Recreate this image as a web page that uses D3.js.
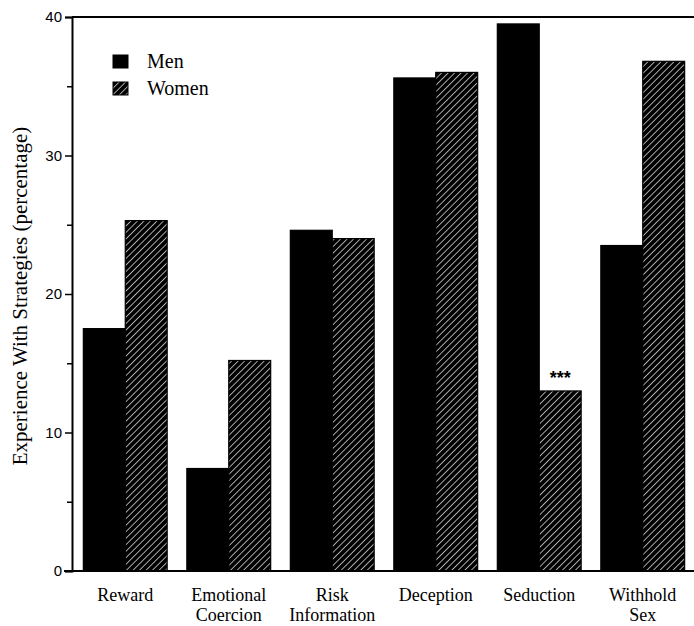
<!DOCTYPE html>
<html>
<head>
<meta charset="utf-8">
<script src="https://cdn.jsdelivr.net/npm/d3@7"></script>
<style>
  html, body { margin: 0; padding: 0; background: #fff; }
  svg { display: block; }
  .serif { font-family: "Liberation Serif", "Times New Roman", "DejaVu Serif", serif; }
  .sans { font-family: "Liberation Sans", Arial, Helvetica, sans-serif; }
</style>
</head>
<body>
<script>
const categories = [["Reward"], ["Emotional", "Coercion"], ["Risk", "Information"], ["Deception"], ["Seduction"], ["Withhold", "Sex"]];
const seriesNames = ["Men", "Women"];
const menValues = [17.5, 7.4, 24.6, 35.6, 39.5, 23.5];
const womenValues = [25.3, 15.2, 24.0, 36.0, 13.0, 36.8];
const yTicks = [0, 10, 20, 30, 40];
const yMinorTicks = [5, 15, 25, 35];
const annotations = [{ cat: 4, series: 1, text: "***" }];
const yTitle = "Experience With Strategies (percentage)";

(function () {
const W = 694, H = 626;
const svg = d3.select("body").append("svg").attr("width", W).attr("height", H);

const defs = svg.append("defs");
const pat = defs.append("pattern")
  .attr("id", "hatch").attr("patternUnits", "userSpaceOnUse")
  .attr("width", 4.6).attr("height", 4.6)
  .attr("patternTransform", "rotate(45)");
pat.append("rect").attr("width", 4.6).attr("height", 4.6).attr("fill", "#000");
pat.append("line").attr("x1", 0).attr("y1", 0).attr("x2", 0).attr("y2", 4.6)
  .attr("stroke", "#fff").attr("stroke-width", 1.3);

const mLeft = 72, mRight = 694, mTop = 17, mBottom = 571;
const x = d3.scaleBand().domain(d3.range(categories.length)).range([73, 695]).paddingInner(0.19).paddingOuter(0.1);
const xs = d3.scaleBand().domain(seriesNames).range([0, x.bandwidth()]);
const y = d3.scaleLinear().domain([0, 40]).range([mBottom, mTop]);

// bars
const data = [];
categories.forEach((c, i) => {
  data.push({ i, s: "Men", v: menValues[i] });
  data.push({ i, s: "Women", v: womenValues[i] });
});
svg.append("g").selectAll("rect").data(data).join("rect")
  .attr("x", d => x(d.i) + xs(d.s))
  .attr("y", d => y(d.v))
  .attr("width", xs.bandwidth())
  .attr("height", d => y(0) - y(d.v))
  .attr("fill", d => d.s === "Men" ? "#000" : "url(#hatch)")
  .attr("stroke", "#000").attr("stroke-width", 1.2);

// top border
svg.append("line").attr("x1", mLeft).attr("x2", mRight).attr("y1", mTop).attr("y2", mTop)
  .attr("stroke", "#000").attr("stroke-width", 2);

// y axis
const yAxis = d3.axisLeft(y).tickValues(yTicks).tickSize(7).tickPadding(3).tickFormat(d3.format("d"));
const gy = svg.append("g").attr("transform", `translate(${mLeft},0)`).call(yAxis);
gy.attr("font-family", null).attr("font-size", null);
gy.select(".domain").attr("stroke-width", 2);
gy.selectAll(".tick line").attr("stroke-width", 1.5);
gy.selectAll(".tick text").attr("class", "sans").style("font-size", "15px").attr("fill", "#000");
const yMinor = d3.axisLeft(y).tickValues(yMinorTicks).tickSize(5).tickFormat("");
const gm = svg.append("g").attr("transform", `translate(${mLeft},0)`).call(yMinor);
gm.select(".domain").remove();
gm.selectAll(".tick line").attr("stroke-width", 1.5);

// x axis baseline
svg.append("line").attr("x1", 64).attr("x2", mRight).attr("y1", mBottom).attr("y2", mBottom)
  .attr("stroke", "#000").attr("stroke-width", 2);

// x labels
const xl = svg.append("g").selectAll("text").data(categories).join("text")
  .attr("class", "serif")
  .attr("x", (d, i) => x(i) + x.bandwidth() / 2)
  .attr("y", 601)
  .attr("text-anchor", "middle")
  .style("font-size", "18px").attr("fill", "#000");
xl.each(function(d) {
  const cx = d3.select(this).attr("x");
  d3.select(this).selectAll("tspan").data(d).join("tspan")
    .attr("x", cx)
    .attr("dy", (t, k) => k === 0 ? 0 : 20)
    .text(t => t);
});

// y title
svg.append("text")
  .attr("class", "serif")
  .attr("transform", `translate(27,${(mTop + mBottom) / 2 + 2}) rotate(-90)`)
  .attr("text-anchor", "middle")
  .style("font-size", "21px").attr("fill", "#000")
  .text(yTitle);

// annotations
annotations.forEach(a => {
  const v = a.series === 0 ? menValues[a.cat] : womenValues[a.cat];
  svg.append("text")
    .attr("class", "sans")
    .attr("x", x(a.cat) + xs(seriesNames[a.series]) + xs.bandwidth() / 2)
    .attr("y", y(v) - 7)
    .attr("text-anchor", "middle")
    .style("font-size", "18px").attr("font-weight", "bold").attr("fill", "#000")
    .text(a.text);
});

// legend
const lg = svg.append("g").attr("transform", "translate(113,55)");
seriesNames.forEach((s, k) => {
  lg.append("rect").attr("x", 0).attr("y", k * 27).attr("width", 15).attr("height", 13)
    .attr("fill", k === 0 ? "#000" : "url(#hatch)").attr("stroke", "#000");
  lg.append("text").attr("class", "serif").attr("x", 34).attr("y", k * 27 + 13)
    .style("font-size", "20px").attr("fill", "#000").text(s);
});
})();
</script>
</body>
</html>
